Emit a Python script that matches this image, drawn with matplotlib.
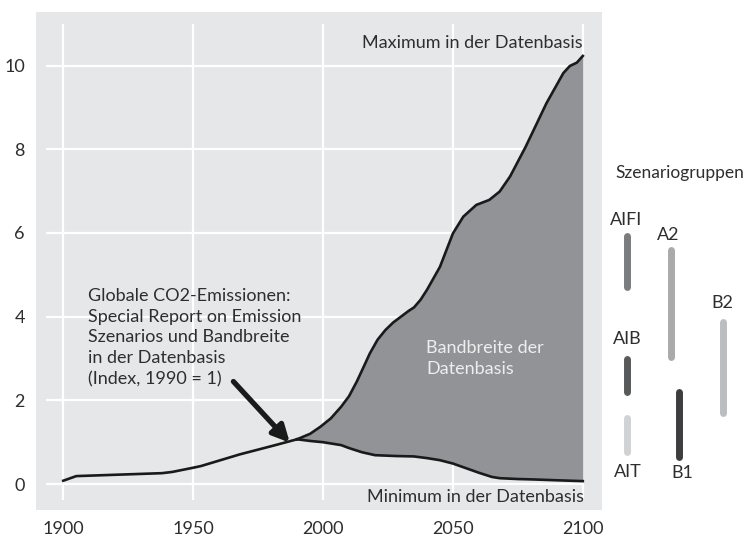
import matplotlib
matplotlib.use("Agg")
import matplotlib.pyplot as plt
import numpy as np

plt.rcParams['font.family'] = ['Lato', 'DejaVu Sans']

# Historical emissions index (1990 = 1)
hist_years = [1900, 1905, 1938, 1942, 1950, 1953, 1968, 1981, 1990]
hist_vals = [0.08, 0.19, 0.26, 0.29, 0.39, 0.43, 0.71, 0.92, 1.07]

# Maximum in database
max_years = [1990, 1995, 1999, 2003, 2007, 2010, 2013, 2016, 2018, 2021, 2024, 2027, 2030, 2033, 2035,
             2037.5, 2040, 2045, 2050, 2054, 2059, 2064, 2068, 2072, 2078, 2086, 2092.5, 2095, 2097.7, 2100]
max_vals = [1.07, 1.2, 1.37, 1.57, 1.85, 2.1, 2.45, 2.85, 3.12, 3.45, 3.68, 3.86, 4.0, 4.14, 4.22,
            4.4, 4.64, 5.19, 5.99, 6.39, 6.67, 6.79, 6.99, 7.35, 8.06, 9.1, 9.82, 9.99, 10.07, 10.23]

# Minimum in database
min_years = [1990, 1995, 2000, 2004, 2007, 2010, 2015, 2020, 2028, 2035, 2040, 2045, 2050, 2055, 2060, 2065, 2068,
             2075, 2081, 2090, 2100]
min_vals = [1.07, 1.03, 1.0, 0.96, 0.93, 0.86, 0.76, 0.69, 0.67, 0.66, 0.62, 0.57, 0.49, 0.38, 0.27, 0.17, 0.14,
            0.12, 0.11, 0.09, 0.07]

# Scenario groups ranges (2100)
scen_names = ["AIFI", "A2", "B2", "AIB", "AIT", "B1"]
scen_low = [4.72, 3.04, 1.69, 2.21, 0.77, 0.65]
scen_high = [5.92, 5.59, 3.88, 3.00, 1.57, 2.21]
scen_colors = ["#7b7c7e", "#a9aaac", "#bcbdbf", "#58595b", "#d1d2d4", "#3d3d3f"]
scen_x = [21.7, 66, 118.3, 21.7, 21.7, 74.3]
scen_label_xy = [(21, 6.31), (63, 5.95), (117, 4.33), (22, 3.47), (23, 0.29), (77, 0.26)]

xticks = [1900, 1950, 2000, 2050, 2100]
yticks = [0, 2, 4, 6, 8, 10]

W, H = 749, 540
fig = plt.figure(figsize=(W / 100, H / 100), dpi=100)
ax = fig.add_axes([36 / W, 30 / H, 566.3 / W, 498 / H])
ax.set_facecolor("#e6e7e8")
for s in ax.spines.values():
    s.set_visible(False)
ax.set_xlim(1889.5, 2107.5)
ax.set_ylim(-0.62, 11.28)

text_c = "#2e2e2e"
# grid lines
for xv in xticks:
    ax.plot([xv, xv], [-0.38, 11.0], color="white", lw=1.6, zorder=1, solid_capstyle="butt")
for yv in yticks:
    ax.plot([1893.3, 2100], [yv, yv], color="white", lw=1.6, zorder=1, solid_capstyle="butt")

ax.set_xticks(xticks)
ax.set_yticks(yticks)
ax.tick_params(length=0, labelsize=13, colors=text_c, pad=8)

# band
grid = np.union1d(max_years, min_years)
up = np.interp(grid, max_years, max_vals)
lo = np.interp(grid, min_years, min_vals)
ax.fill_between(grid, lo, up, color="#929396", zorder=2, lw=0)
ax.plot(max_years, max_vals, color="#1a1a1a", lw=1.9, zorder=3, solid_joinstyle="round")
ax.plot(min_years, min_vals, color="#1a1a1a", lw=1.9, zorder=3, solid_joinstyle="round")
ax.plot(hist_years, hist_vals, color="#1a1a1a", lw=1.9, zorder=3, solid_joinstyle="round")

ax.text(2100, 10.55, "Maximum in der Datenbasis", ha="right", va="center", fontsize=13, color=text_c)
ax.text(2100.5, -0.30, "Minimum in der Datenbasis", ha="right", va="center", fontsize=13, color=text_c)
ax.text(2039.8, 3.0, "Bandbreite der\nDatenbasis", ha="left", va="center", fontsize=13,
        color="#eeeeee", linespacing=1.45)
ax.text(1909.5, 3.5, "Globale CO2-Emissionen:\nSpecial Report on Emission\nSzenarios und Bandbreite\nin der Datenbasis\n(Index, 1990 = 1)",
        ha="left", va="center", fontsize=13, color=text_c, linespacing=1.38)
ax.annotate("", xy=(1987.2, 0.99), xytext=(1965.5, 2.45),
            arrowprops=dict(arrowstyle="-|>,head_length=1.0,head_width=0.5", lw=3.8, color="#1a1a1a",
                            shrinkA=0, shrinkB=0), zorder=4)

# scenario groups axis
ax2 = fig.add_axes([605 / W, 30 / H, 144 / W, 498 / H])
ax2.set_xlim(0, 144)
ax2.set_ylim(-0.62, 11.28)
ax2.axis("off")
for name, l, h, c, x, (lx, ly) in zip(scen_names, scen_low, scen_high, scen_colors, scen_x, scen_label_xy):
    ax2.plot([x, x], [l, h], color=c, lw=5, solid_capstyle="round")
    ax2.text(lx, ly, name, ha="center", va="center", fontsize=13, color=text_c)
ax2.text(10, 7.43, "Szenariogruppen", ha="left", va="center", fontsize=12.5, color=text_c)

fig.savefig("out.png", dpi=100)
